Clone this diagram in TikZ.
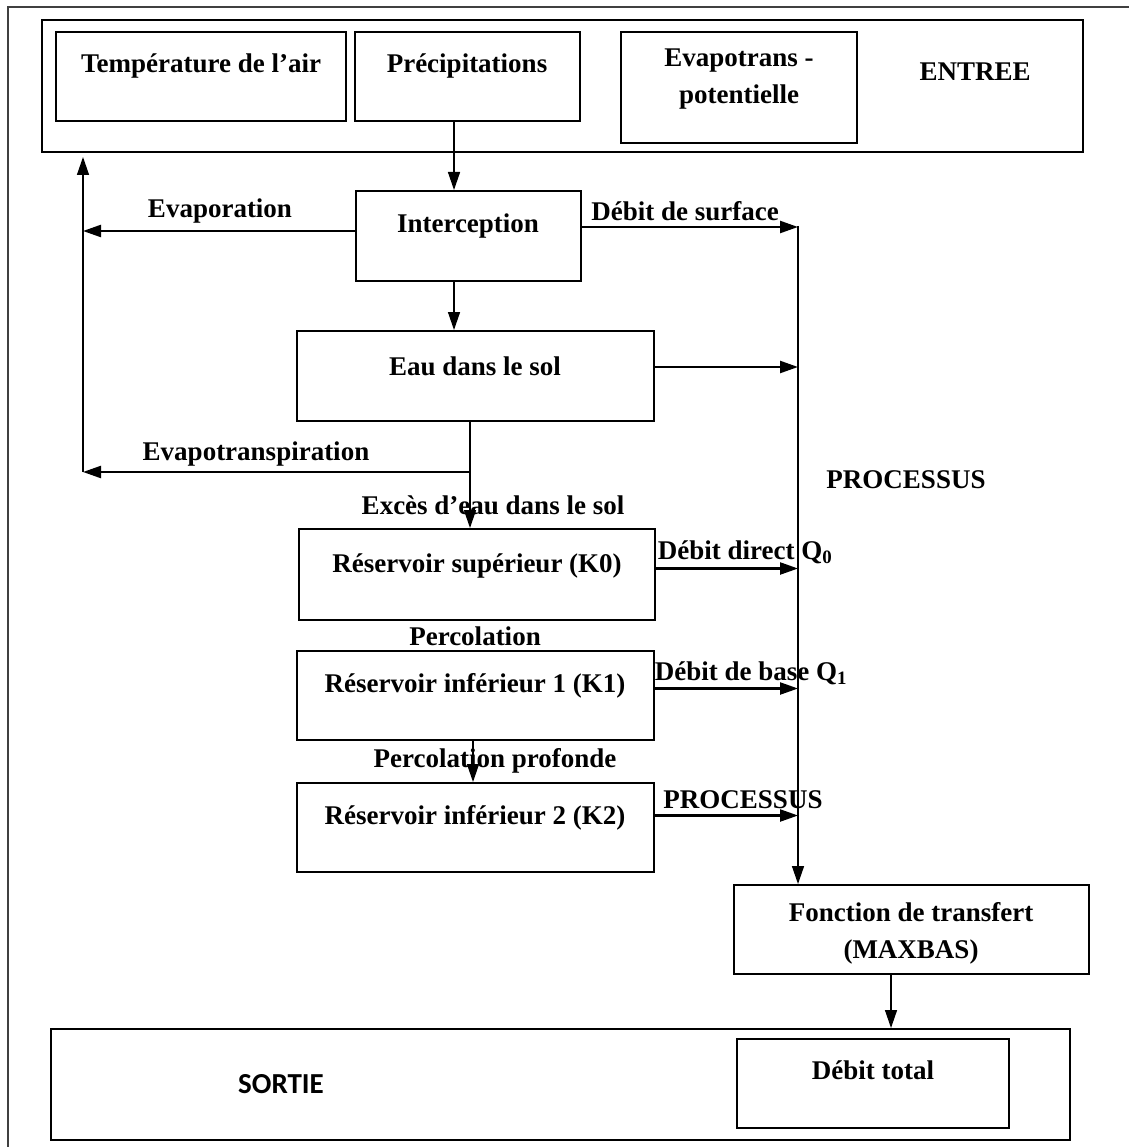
\documentclass[tikz,border=0pt]{standalone}
\usepackage{fontspec}
\setmainfont{Liberation Serif}
\newfontfamily\sortiefont{Carlito}
\usetikzlibrary{arrows.meta,fit}
\begin{document}
\begin{tikzpicture}[x=1pt,y=-1pt,>={Triangle[length=18pt,width=12pt]},
    font=\fontsize{27}{37}\selectfont\bfseries,
    boite/.style={draw,line width=2pt,inner sep=0pt},
    txt/.style={inner sep=0pt,align=center},
    fleche/.style={->,line width=1.4pt},
    debit/.style={->,line width=2.3pt}]
  \useasboundingbox (0,0) rectangle (1129,1147);
  \draw [black!75,line width=1.8pt] (8,1147)--(8,7)--(1129,7);
  % entree
  \node[boite,fit={(42,20)(1083,152)}] (entree) {};
  \node[boite,fit={(56,32)(346,121)}] (temp) {};
  \node[boite,fit={(355,32)(580,121)}] (precip) {};
  \node[boite,fit={(621,32)(857,143)}] (etp) {};
  \node[txt] (tTemp) at (201,66) {Température de l’air};
  \node[txt] (tPrecip) at (467,66) {Précipitations};
  \node[txt] (tEtp) at (739,79) {Evapotrans -\\potentielle};
  \node[txt] (tEntree) at (975,72) {ENTREE};
  % processus
  \node[boite,fit={(356,191)(581,281)}] (inter) {};
  \node[boite,fit={(297,331)(654,421)}] (eau) {};
  \node[boite,fit={(299,529)(655,620)}] (rsup) {};
  \node[boite,fit={(297,651)(654,740)}] (rinf1) {};
  \node[boite,fit={(297,783)(654,872)}] (rinf2) {};
  \node[boite,fit={(734,885)(1089,974)}] (transf) {};
  \node[txt] (tInter) at (468,226) {Interception};
  \node[txt] (tEau) at (475,366) {Eau dans le sol};
  \node[txt] (tRsup) at (477,566) {Réservoir supérieur (K0)};
  \node[txt] (tRinf1) at (475,686) {Réservoir inférieur 1 (K1)};
  \node[txt] (tRinf2) at (475,818) {Réservoir inférieur 2 (K2)};
  \node[txt] (tTransf) at (911,933) {Fonction de transfert\\(MAXBAS)};
  % sortie
  \node[boite,fit={(51,1029)(1070,1140)}] (sortie) {};
  \node[boite,fit={(737,1039)(1009,1128)}] (total) {};
  \node[txt] (tTotal) at (873,1070) {Débit total};
  \node[txt,font=\fontsize{29}{34}\selectfont\sortiefont\bfseries] (tSortie) at (281,1084) {SORTIE};
  % points de passage
  \coordinate (xP) at (454,0);
  \coordinate (xR) at (473,0);
  \coordinate (xT) at (891,0);
  \coordinate (branche) at (470,472);
  \coordinate (gBas) at (83,472);
  \coordinate (dHaut) at (798,226);
  % liaisons
  \draw [fleche] (precip.south -| xP)--(inter.north -| xP);
  \draw [fleche] (inter.south -| xP)--(eau.north -| xP);
  \draw [debit] ([yshift=5pt]inter.west)--([yshift=5pt]inter.west -| gBas);
  \draw [fleche,shorten >=4pt] (gBas)--(entree.south -| gBas);
  \draw [fleche] (eau.south -| branche)--(rsup.north -| branche);
  \draw [debit] (branche)--(gBas);
  \draw [fleche] (rinf1.south -| xR)--(rinf2.north -| xR);
  \draw [fleche] (dHaut)--(transf.north -| dHaut);
  \draw [debit] ([yshift=9pt]inter.east)--([yshift=9pt]inter.east -| dHaut);
  \draw [debit] ([yshift=9pt]eau.east)--([yshift=9pt]eau.east -| dHaut);
  \draw [debit] ([yshift=6pt]rsup.east)--([yshift=6pt]rsup.east -| dHaut);
  \draw [debit] ([yshift=7pt]rinf1.east)--([yshift=7pt]rinf1.east -| dHaut);
  \draw [debit] ([yshift=12pt]rinf2.east)--([yshift=12pt]rinf2.east -| dHaut);
  \draw [fleche] (transf.south -| xT)--(sortie.north -| xT);
  % etiquettes
  \node[txt] (lEvap) at (220,211) {Evaporation};
  \node[txt] (lSurf) at (685,211) {Débit de surface};
  \node[txt] (lEtr) at (256,454) {Evapotranspiration};
  \node[txt] (lProc) at (906,480) {PROCESSUS};
  \node[txt] (lExces) at (493,505) {Excès d’eau dans le sol};
  \node[txt] (lDirect) at (745,552) {Débit direct Q\textsubscript{0}};
  \node[txt] (lPerc) at (475,636) {Percolation};
  \node[txt] (lBase) at (751,673) {Débit de base Q\textsubscript{1}};
  \node[txt] (lProf) at (495,761) {Percolation profonde};
  \node[txt] (lProc2) at (743,800) {PROCESSUS};
\end{tikzpicture}
\end{document}
